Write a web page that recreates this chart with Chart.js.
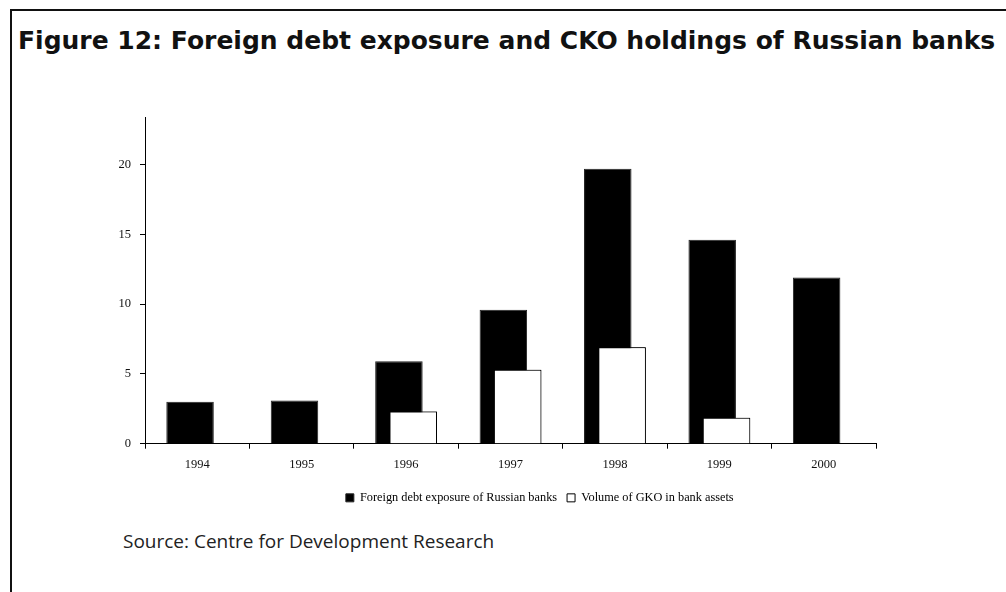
<!DOCTYPE html>
<html>
<head>
<meta charset="utf-8">
<script src="https://cdn.jsdelivr.net/npm/chart.js@4.4.1/dist/chart.umd.min.js"></script>
<style>
  html, body { margin: 0; padding: 0; background: #fff; }
  #page { position: relative; width: 1006px; height: 592px; overflow: hidden; }
  #frame { position: absolute; left: 10px; top: 9px; width: 1200px; height: 800px;
           border-left: 2px solid #111; border-top: 2px solid #111; }
  #title { position: absolute; left: 18px; top: 26px; margin: 0; white-space: nowrap;
           font: bold 25px "DejaVu Sans", sans-serif; color: #111; }
  #source { position: absolute; left: 123px; top: 528px; margin: 0; white-space: nowrap;
            font: 19px "Open Sans", sans-serif; color: #222; }
  #wrap { position: absolute; left: 80px; top: 100px; width: 880px; height: 420px; }
</style>
</head>
<body>
<div id="page">
  <div id="frame"></div>
  <h1 id="title">Figure 12: Foreign debt exposure and CKO holdings of Russian banks</h1>
  <div id="wrap"><canvas id="chart"></canvas></div>
  <p id="source">Source: Centre for Development Research</p>
</div>
<script>
// years on the category axis
const years = ["1994", "1995", "1996", "1997", "1998", "1999", "2000"];
// foreign debt exposure of Russian banks
const foreignDebt = [3.0, 3.1, 5.9, 9.6, 19.7, 14.6, 11.9];
// GKO volume in bank assets (no bar where there is no figure)
const gkoVolume = [null, null, 2.3, 5.3, 6.9, 1.85, null];
const yTicks = [0, 5, 10, 15, 20];

const serif = { family: "'Liberation Serif', 'Times New Roman', serif", size: 12.5 };

// GKO bars overlap the debt bars, so paint them again on top
const gkoOnTop = {
  id: "gkoOnTop",
  afterDatasetsDraw(chart) {
    const meta = chart.getDatasetMeta(1);
    if (!meta.hidden) meta.controller.draw();
  }
};

// nudge the legend to the right of centre
const legendShift = {
  id: "legendShift",
  afterLayout(chart) {
    chart.legend.left += 47;
    chart.legend.right += 47;
  }
};

new Chart(document.getElementById("chart"), {
  type: "bar",
  data: {
    labels: years,
    datasets: [
      {
        label: "Foreign debt exposure of Russian banks",
        data: foreignDebt,
        backgroundColor: "#000",
        borderColor: "#222",
        borderWidth: 1
      },
      {
        label: "Volume of GKO in bank assets",
        data: gkoVolume,
        backgroundColor: "#fff",
        borderColor: "#000",
        borderWidth: 1
      }
    ]
  },
  options: {
    responsive: true,
    maintainAspectRatio: false,
    animation: false,
    categoryPercentage: 0.274,
    barPercentage: 3.32,
    layout: { padding: { left: 29.5, right: 84, top: 17, bottom: 6 } },
    plugins: {
      tooltip: { enabled: false },
      legend: {
        position: "bottom",
        labels: {
          boxWidth: 8,
          boxHeight: 8,
          padding: 10,
          color: "#000",
          font: { family: serif.family, size: 12.3 }
        }
      }
    },
    scales: {
      x: {
        grid: { offset: true, drawOnChartArea: false, tickLength: 5, color: "#000" },
        border: { color: "#000", width: 1 },
        ticks: { color: "#111", font: serif, padding: 9 }
      },
      y: {
        min: 0,
        max: 23.4,
        afterBuildTicks(scale) {
          scale.ticks = yTicks.map(v => ({ value: v }));
        },
        grid: { drawOnChartArea: false, tickLength: 5, color: "#000" },
        border: { color: "#000", width: 1 },
        ticks: { color: "#111", font: serif, padding: 9 }
      }
    }
  },
  plugins: [gkoOnTop, legendShift]
});
</script>
</body>
</html>
